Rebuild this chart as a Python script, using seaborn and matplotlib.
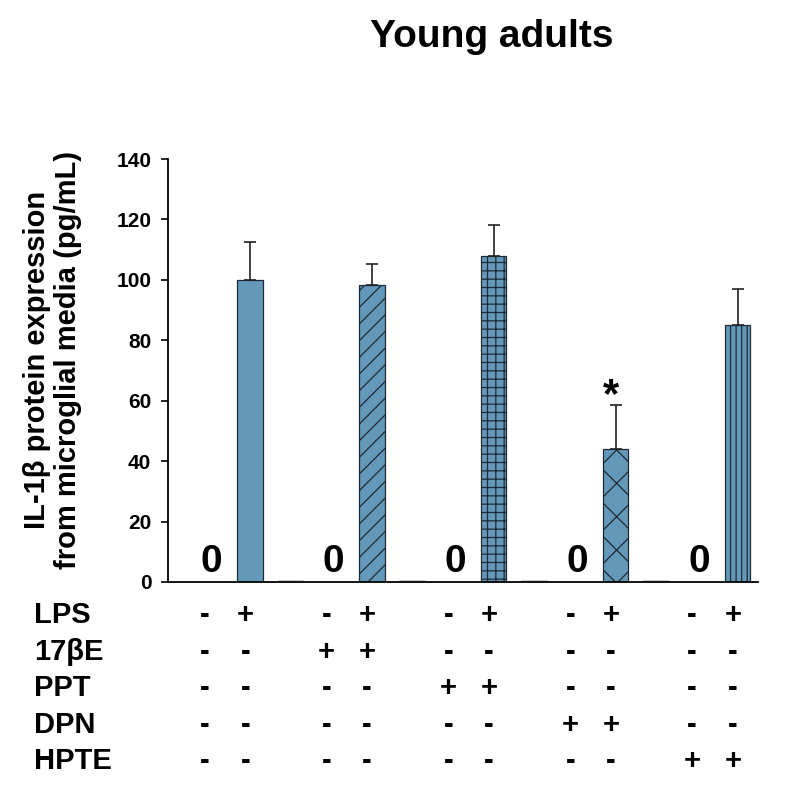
import matplotlib
matplotlib.use("Agg")
import matplotlib.pyplot as plt
import seaborn as sns
import pandas as pd
import numpy as np

# ---- data ----
groups = ["Control", "17βE", "PPT", "DPN", "HPTE"]
lps_values = [100.0, 98.3, 107.8, 43.9, 85.1]
lps_errors = [12.6, 7.0, 10.4, 14.7, 11.9]
hatches = ["", "//", "++", "x", "|||"]
significant = [False, False, False, True, False]
row_labels = ["LPS", "17βE", "PPT", "DPN", "HPTE"]
# treatment table: for each row, symbol per group (no-LPS, LPS)
table = {
    "LPS":  [["-", "+"]] * 5,
    "17βE": [["-", "-"], ["+", "+"], ["-", "-"], ["-", "-"], ["-", "-"]],
    "PPT":  [["-", "-"], ["-", "-"], ["+", "+"], ["-", "-"], ["-", "-"]],
    "DPN":  [["-", "-"], ["-", "-"], ["-", "-"], ["+", "+"], ["-", "-"]],
    "HPTE": [["-", "-"], ["-", "-"], ["-", "-"], ["-", "-"], ["+", "+"]],
}
zero_label = "0"
title = "Young adults"
ylabel = "IL-1β protein expression\nfrom microglial media (pg/mL)"

sns.set_theme(style="white")
plt.rcParams["font.family"] = ["Liberation Sans", "DejaVu Sans"]
plt.rcParams["font.weight"] = "bold"
plt.rcParams["text.color"] = "black"
plt.rcParams["axes.labelcolor"] = "black"
plt.rcParams["ytick.color"] = "black"
plt.rcParams["hatch.linewidth"] = 0.9

# categorical slots: per group -> no-LPS slot, LPS slot, spacer
slots = []
for i, g in enumerate(groups):
    slots += [f"{g} ctrl", f"{g} LPS"]
    if i < len(groups) - 1:
        slots.append(f"{g} gap")

df = pd.DataFrame({"slot": [f"{g} LPS" for g in groups], "value": lps_values})

fig = plt.figure(figsize=(8.0, 7.97), dpi=100)
ax = fig.add_axes([0.21, 0.2698, 0.7375, 0.5307])

bar_color = "#6398b9"
sns.barplot(data=df, x="slot", y="value", order=slots, color=bar_color,
            saturation=1, width=0.62, edgecolor="#1e2b36", linewidth=0.9,
            errorbar=None, ax=ax)
for p, h in zip(ax.patches, hatches):
    p.set_hatch(h)

xpos = [slots.index(f"{g} LPS") for g in groups]
ax.errorbar(xpos, lps_values, yerr=[np.zeros(len(groups)), lps_errors],
            fmt="none", ecolor="#222222", elinewidth=1.2, capsize=4.5, capthick=1.2,
            zorder=1)

# zero labels and tiny spacer marks
for g in groups:
    ax.text(slots.index(f"{g} ctrl") + 0.05, 0.8, zero_label, ha="center", va="bottom",
            fontsize=28, fontweight="bold")
for g in groups[:-1]:
    xg = slots.index(f"{g} gap")
    ax.plot([xg - 0.3, xg + 0.3], [0.25, 0.25], color="#cccccc", lw=1.5,
            solid_capstyle="round", zorder=1)

for x, v, e, s in zip(xpos, lps_values, lps_errors, significant):
    if s:
        ax.text(x - 0.12, v + e - 3.8, "*", ha="center", va="bottom",
                fontsize=30, fontweight="bold")

ax.set_ylim(0, 140)
ax.set_xlim(-1.02, 13.5)
ax.set_yticks(np.arange(0, 141, 20))
ax.set_yticklabels([str(v) for v in range(0, 141, 20)], fontsize=15, fontweight="bold")
ax.set_xticks([])
ax.set_xlabel("")
ax.set_ylabel(ylabel, fontsize=21, fontweight="bold", linespacing=1.15)
ax.yaxis.set_label_coords(-0.145, 0.525)
ax.tick_params(axis="y", direction="out", length=5, width=1.2, color="black",
               left=True, pad=7)
for sp in ["top", "right"]:
    ax.spines[sp].set_visible(False)
for sp in ["left", "bottom"]:
    ax.spines[sp].set_color("black")
    ax.spines[sp].set_linewidth(1.3)

fig.text(0.615, 0.953, title, ha="center", va="center", fontsize=28, fontweight="bold")

# treatment table below the axis
row_y = [615, 652, 688, 725, 761]
trans = matplotlib.transforms.blended_transform_factory(ax.transData, fig.transFigure)
for lbl, yp in zip(row_labels, row_y):
    yf = 1 - yp / 797
    fig.text(0.043, yf, lbl, ha="left", va="center", fontsize=21, fontweight="bold")
    for g, syms in zip(groups, table[lbl]):
        for slot_name, s in zip([f"{g} ctrl", f"{g} LPS"], syms):
            xs = slots.index(slot_name) - 0.12
            ax.text(xs, yf, s, transform=trans, ha="center", va="center",
                    fontsize=21, fontweight="bold", clip_on=False)

fig.savefig("out.png", dpi=100)
